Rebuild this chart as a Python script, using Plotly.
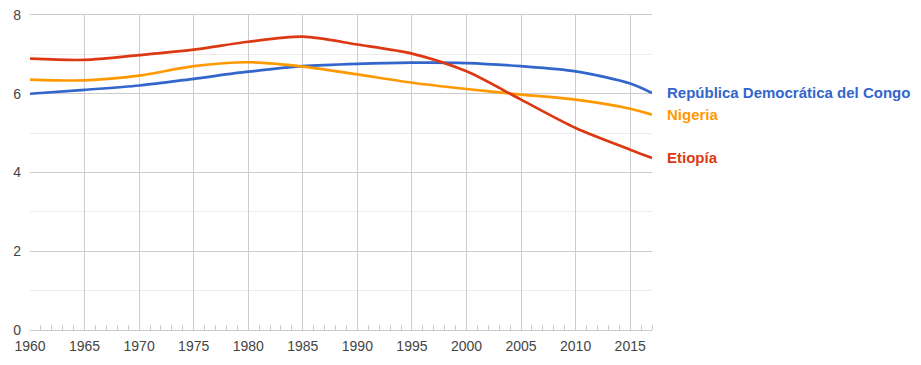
import plotly.graph_objects as go

years = [1960, 1965, 1970, 1975, 1980, 1985, 1990, 1995, 2000, 2005, 2010, 2015, 2017]
congo = [6.00, 6.10, 6.21, 6.38, 6.56, 6.70, 6.76, 6.79, 6.78, 6.70, 6.57, 6.26, 6.02]
nigeria = [6.36, 6.34, 6.46, 6.70, 6.80, 6.69, 6.49, 6.28, 6.12, 5.98, 5.85, 5.62, 5.47]
etiopia = [6.89, 6.86, 6.98, 7.12, 7.32, 7.45, 7.25, 7.02, 6.57, 5.85, 5.13, 4.58, 4.37]

names = ["República Democrática del Congo", "Nigeria", "Etiopía"]
colors = ["#3366cc", "#ff9900", "#dc3912"]
series = [congo, nigeria, etiopia]

fig = go.Figure()
for name, vals, col in zip(names, series, colors):
    fig.add_trace(go.Scatter(x=years, y=vals, mode="lines", name=name,
                             line=dict(color=col, width=2.7, shape="spline", smoothing=0.8),
                             hoverinfo="x+y+name"))
    fig.add_annotation(x=1, xref="paper", y=vals[-1], yref="y", text=name,
                       showarrow=False, xanchor="left", yanchor="middle", xshift=13,
                       font=dict(family="Liberation Sans, Arial, sans-serif", size=15,
                                 color=col, weight="bold"))

fig.update_layout(
    width=921, height=365,
    margin=dict(l=30, r=269, t=15, b=35, autoexpand=False),
    plot_bgcolor="white", paper_bgcolor="white",
    showlegend=False,
    font=dict(family="Liberation Sans, Arial, sans-serif", size=14, color="#444"),
)
fig.update_xaxes(range=[1960, 2017], tickmode="linear", tick0=1960, dtick=5,
                 showgrid=True, gridcolor="#cccccc", gridwidth=1,
                 showline=True, mirror=True, linecolor="#cccccc", linewidth=1,
                 ticks="", zeroline=False, automargin=False,
                 minor=dict(dtick=1, tick0=1960, ticks="inside", ticklen=5,
                            tickcolor="#cccccc", showgrid=False),
                 tickfont=dict(size=14, color="#444"), ticklabelstandoff=3)
fig.update_yaxes(range=[0, 8], tickmode="linear", tick0=0, dtick=2,
                 showgrid=True, gridcolor="#cccccc", gridwidth=1,
                 zeroline=False, ticks="", showline=False, automargin=False,
                 minor=dict(dtick=1, showgrid=True, gridcolor="#ebebeb"),
                 tickfont=dict(size=14, color="#444"), ticklabelstandoff=8)

fig.write_html("out.html", config={"displayModeBar": False},
               post_script="document.body.style.margin='0px';document.body.style.padding='0px';")
